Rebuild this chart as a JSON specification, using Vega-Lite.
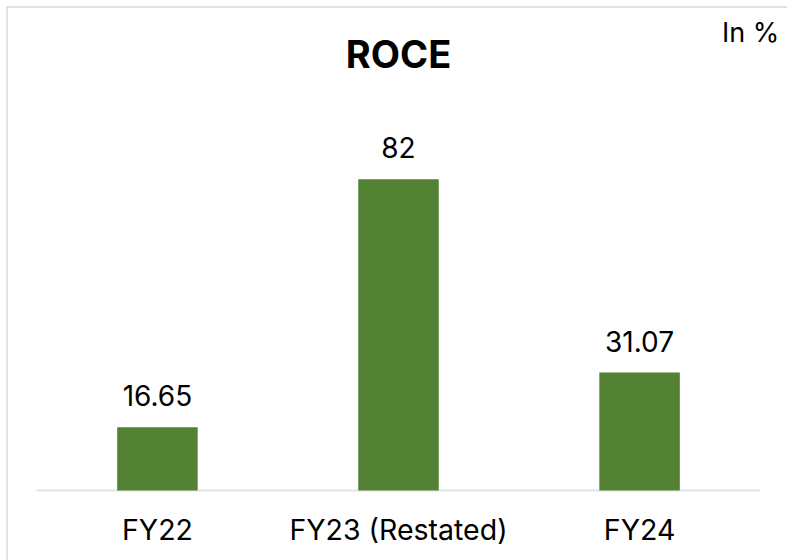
{
  "$schema": "https://vega.github.io/schema/vega-lite/v6.json",
  "autosize": "none",
  "width": 783,
  "height": 563,
  "padding": {"left": 7, "top": 7, "right": 0, "bottom": 0},
  "background": "white",
  "config": {
    "view": {"stroke": "#d9d9d9", "strokeWidth": 1.5},
    "font": "Inter",
    "axisY": {"disable": true},
    "axisX": {
      "domain": false,
      "ticks": false,
      "tickSize": 0,
      "grid": false,
      "labelAngle": 0,
      "labelLimit": 0,
      "labelFont": "Inter",
      "labelFontSize": 28.5,
      "labelColor": "#000000",
      "labelBaseline": "alphabetic",
      "labelPadding": 49,
      "offset": -80
    }
  },
  "title": {
    "text": "ROCE",
    "font": "Inter",
    "fontSize": 38,
    "fontWeight": "bold",
    "color": "#000000",
    "anchor": "middle",
    "frame": "group",
    "baseline": "alphabetic",
    "offset": -99
  },
  "data": {
    "values": [
      {"year": "FY22", "roce": 16.65, "label": "16.65"},
      {"year": "FY23 (Restated)", "roce": 82, "label": "82"},
      {"year": "FY24", "roce": 31.07, "label": "31.07"}
    ]
  },
  "encoding": {
    "x": {
      "field": "year",
      "type": "nominal",
      "sort": null,
      "title": null,
      "scale": {"paddingInner": 0.666, "paddingOuter": 0.457}
    }
  },
  "layer": [
    {
      "mark": {"type": "tick", "color": "#d9d9d9", "thickness": 2, "size": 241.5, "orient": "horizontal"},
      "encoding": {
        "y": {"datum": 0, "type": "quantitative"}
      }
    },
    {
      "mark": {"type": "bar", "color": "#548235"},
      "encoding": {
        "y": {
          "field": "roce",
          "type": "quantitative",
          "title": null,
          "scale": {"domain": [-20.95, 127.4], "nice": false, "zero": false}
        },
        "y2": {"datum": 0}
      }
    },
    {
      "mark": {"type": "text", "fontSize": 28, "font": "Inter", "color": "#000000", "baseline": "alphabetic", "dy": -21},
      "encoding": {
        "y": {"field": "roce", "type": "quantitative"},
        "text": {"field": "label"}
      }
    },
    {
      "transform": [{"filter": "datum.year == 'FY24'"}],
      "mark": {"type": "text", "fontSize": 27, "font": "Inter", "color": "#000000", "baseline": "alphabetic", "align": "center"},
      "encoding": {
        "x": {"field": "year", "type": "nominal", "sort": null, "title": null, "bandPosition": 1.88},
        "y": {"datum": 118.2, "type": "quantitative"},
        "text": {"value": "In %"}
      }
    }
  ]
}
